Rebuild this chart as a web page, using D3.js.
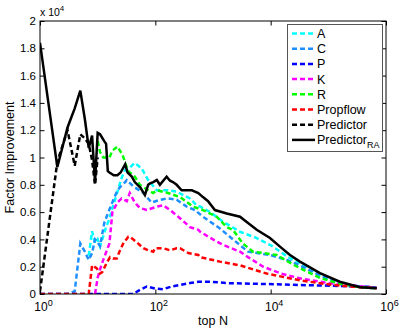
<!DOCTYPE html>
<html>
<head>
<meta charset="utf-8">
<script src="https://cdn.jsdelivr.net/npm/d3@7/dist/d3.min.js"></script>
<style>
  body { margin: 0; background: #fff; }
  text { font-family: "Liberation Sans", Arial, sans-serif; fill: #000; }
</style>
</head>
<body>
<svg id="chart" width="399" height="330"></svg>
<script>
// values, y in units of 10^4
const xTicks = [1, 100, 10000, 1000000];
const yTicks = [0, 0.2, 0.4, 0.6, 0.8, 1, 1.2, 1.4, 1.6, 1.8, 2];

const nA = [7, 8, 9, 10, 11, 14, 16, 18, 21, 26, 30, 35, 44, 58, 75, 106, 166, 234, 399, 520, 600, 890, 1490, 2940, 5730, 11000, 20000, 32200, 71600, 208000, 690000];
const vA = [0.28, 0.46, 0.37, 0.40, 0.35, 0.49, 0.55, 0.63, 0.72, 0.85, 0.91, 0.92, 0.96, 0.92, 0.835, 0.76, 0.76, 0.75, 0.70, 0.65, 0.64, 0.60, 0.53, 0.456, 0.41, 0.347, 0.27, 0.227, 0.14, 0.066, 0.044];

const nC = [1, 2, 3, 4, 5, 6, 7, 8, 9, 10, 11, 13, 16, 21, 24, 30, 32, 41, 62, 86, 120, 166, 234, 350, 487, 670, 1320, 2220, 4050, 9730, 19000, 32000, 72000, 160000, 354000, 690000];
const vC = [0, 0, 0, 0.02, 0.37, 0.31, 0.25, 0.30, 0.40, 0.38, 0.35, 0.52, 0.62, 0.74, 0.78, 0.82, 0.835, 0.79, 0.74, 0.67, 0.69, 0.70, 0.69, 0.64, 0.615, 0.566, 0.48, 0.40, 0.31, 0.286, 0.25, 0.21, 0.135, 0.08, 0.05, 0.042];

const nP = [1, 10, 41, 54, 71, 99, 137, 192, 268, 399, 556, 887, 1730, 8500, 32000, 120000, 460000, 690000];
const vP = [0, 0, 0, 0.03, 0.055, 0.04, 0.035, 0.055, 0.066, 0.08, 0.09, 0.09, 0.08, 0.073, 0.066, 0.06, 0.053, 0.045];

const nK = [9, 10, 11, 12.5, 16, 18, 22, 26, 32, 36, 44, 54, 71, 106, 137, 180, 268, 399, 556, 600, 1000, 1490, 2940, 4050, 7400, 15000, 32000, 100000, 460000, 690000];
const vK = [0, 0.12, 0.18, 0.25, 0.37, 0.60, 0.67, 0.70, 0.68, 0.74, 0.67, 0.63, 0.615, 0.64, 0.65, 0.615, 0.555, 0.49, 0.47, 0.456, 0.40, 0.36, 0.31, 0.27, 0.20, 0.15, 0.115, 0.08, 0.053, 0.045];

const nR = [10, 11, 12.5, 16, 18, 22, 27, 30, 34, 44, 54, 75, 92, 106, 166, 268, 450, 670, 1160, 1730, 2220, 3300, 4935, 7400, 12700, 20000, 32000, 72000, 160000, 350000, 690000];
const vR = [1.12, 1.04, 1.0, 1.0, 1.05, 1.08, 1.02, 0.96, 0.90, 0.86, 0.80, 0.76, 0.74, 0.76, 0.74, 0.71, 0.64, 0.615, 0.566, 0.49, 0.47, 0.37, 0.31, 0.30, 0.286, 0.237, 0.19, 0.117, 0.075, 0.05, 0.042];

const nProp = [1, 2, 3, 4, 5, 6, 7, 8, 9.6, 11, 12, 14.4, 16.4, 18.4, 21.4, 24.4, 27.8, 34, 36, 47.5, 62, 75, 92, 98.6, 137, 180, 234, 268, 373, 556, 595, 1320, 2940, 8500, 32000, 120000, 350000, 690000];
const vProp = [0, 0, 0, 0, 0, 0, 0, 0.21, 0.19, 0.15, 0.16, 0.23, 0.27, 0.26, 0.26, 0.32, 0.37, 0.42, 0.42, 0.38, 0.335, 0.32, 0.31, 0.335, 0.335, 0.32, 0.335, 0.335, 0.30, 0.286, 0.27, 0.237, 0.21, 0.15, 0.10, 0.066, 0.05, 0.042];

const nPred = [1, 2, 3, 4, 5, 6, 7, 8, 9, 10];
const vPred = [0.02, 0.97, 1.20, 0.94, 1.17, 1.14, 1.10, 0.98, 0.80, 1.0];

const nRA = [1, 2, 3, 4, 5, 6, 7, 8, 9, 10, 11, 13, 14, 15, 16, 19, 22, 25, 30, 33, 39, 44, 55, 66, 75, 81, 92, 106, 120, 137, 157, 180, 202, 234, 286, 350, 430, 556, 670, 820, 1080, 1730, 2940, 4050, 5730, 9730, 14500, 21600, 32200, 71600, 158000, 354000, 690000];
const vRA = [1.84, 0.93, 1.22, 1.36, 1.49, 1.28, 1.07, 1.16, 0.82, 1.18, 1.17, 1.12, 1.10, 0.90, 0.89, 0.87, 0.87, 0.89, 0.95, 0.89, 0.86, 0.82, 0.78, 0.725, 0.80, 0.81, 0.82, 0.835, 0.80, 0.83, 0.86, 0.83, 0.82, 0.80, 0.76, 0.76, 0.76, 0.74, 0.71, 0.68, 0.615, 0.59, 0.566, 0.52, 0.47, 0.41, 0.347, 0.286, 0.237, 0.153, 0.09, 0.05, 0.042];

const seriesNames = ["A", "C", "P", "K", "R", "Propflow", "Predictor", "PredictorRA"];
const seriesColors = ["#00ffff", "#1e8fff", "#0000ff", "#ff00ff", "#00ff00", "#ff0000", "#000000", "#000000"];

const series = [
  { name: "A", n: nA, v: vA },
  { name: "C", n: nC, v: vC },
  { name: "P", n: nP, v: vP },
  { name: "K", n: nK, v: vK },
  { name: "R", n: nR, v: vR },
  { name: "Propflow", n: nProp, v: vProp },
  { name: "Predictor", n: nPred, v: vPred },
  { name: "PredictorRA", n: nRA, v: vRA }
];

const svg = d3.select("#chart");
const mLeft = 40, mRight = 386, mTop = 21, mBottom = 294;

const x = d3.scaleLog().domain([1, 1e6]).range([mLeft, mRight]);
const y = d3.scaleLinear().domain([0, 2]).range([mBottom, mTop]);

svg.append("clipPath").attr("id", "clip")
  .append("rect").attr("x", mLeft).attr("y", mTop).attr("width", mRight - mLeft).attr("height", mBottom - mTop);

// lines
const line = d3.line().x(d => x(d[0])).y(d => y(d[1]));
const plot = svg.append("g").attr("clip-path", "url(#clip)");
series.forEach(function(s, i) {
  const pts = s.n.map((n, j) => [n, s.v[j]]);
  plot.append("path")
    .attr("d", line(pts))
    .attr("fill", "none")
    .attr("stroke", seriesColors[i])
    .attr("stroke-width", 2.5)
    .attr("stroke-dasharray", s.name == "PredictorRA" ? null : "5,3");
});

// axes, ticks pointing inward
function supLabels(sel) {
  sel.selectAll(".tick text").each(function(d) {
    const t = d3.select(this);
    t.text("10");
    t.append("tspan").attr("dy", -5).attr("font-size", 9).text(Math.round(Math.log10(d)));
  });
}

svg.append("g").attr("transform", `translate(0,${mBottom})`)
  .call(d3.axisBottom(x).tickValues(xTicks).tickSizeInner(-4.5).tickSizeOuter(0).tickPadding(6).tickFormat(() => ""))
  .call(g => g.select(".domain").remove())
  .call(g => g.selectAll("text").attr("font-size", 12).attr("dy", "0.95em").attr("dx", 3))
  .call(supLabels);

svg.append("g").attr("transform", `translate(0,${mTop})`)
  .call(d3.axisTop(x).tickValues(xTicks).tickSizeInner(-4.5).tickSizeOuter(0).tickFormat(""))
  .call(g => g.select(".domain").remove());

svg.append("g").attr("transform", `translate(${mLeft},0)`)
  .call(d3.axisLeft(y).tickValues(yTicks).tickSizeInner(-4.5).tickSizeOuter(0).tickPadding(4).tickFormat(d3.format("~g")))
  .call(g => g.select(".domain").remove())
  .call(g => g.selectAll("text").attr("font-size", 11.5));

svg.append("g").attr("transform", `translate(${mRight},0)`)
  .call(d3.axisRight(y).tickValues(yTicks).tickSizeInner(-4.5).tickSizeOuter(0).tickFormat(""))
  .call(g => g.select(".domain").remove());

svg.selectAll(".tick line").attr("stroke", "#000");

svg.append("rect")
  .attr("x", mLeft).attr("y", mTop).attr("width", mRight - mLeft).attr("height", mBottom - mTop)
  .attr("fill", "none").attr("stroke", "#000").attr("stroke-width", 1);

// exponent label
const ex = svg.append("text").attr("x", mLeft).attr("y", 16).attr("font-size", 10.5).text("x 10");
ex.append("tspan").attr("dy", -5).attr("font-size", 8).text("4");

// axis titles
svg.append("text").attr("x", (mLeft + mRight) / 2).attr("y", 325)
  .attr("text-anchor", "middle").attr("font-size", 12.5).text("top N");
svg.append("text")
  .attr("transform", `translate(14,${(mTop + mBottom) / 2}) rotate(-90)`)
  .attr("text-anchor", "middle").attr("font-size", 12.5).text("Factor Improvement");

// legend
const lg = svg.append("g");
lg.append("rect").attr("x", 287.5).attr("y", 24.5).attr("width", 95).attr("height", 127)
  .attr("fill", "#fff").attr("stroke", "#555").attr("stroke-width", 1);
seriesNames.forEach(function(name, i) {
  const ly = 33.5 + i * 15.2;
  lg.append("line").attr("x1", 292).attr("x2", 315).attr("y1", ly).attr("y2", ly)
    .attr("stroke", seriesColors[i]).attr("stroke-width", 2.5)
    .attr("stroke-dasharray", name == "PredictorRA" ? null : "5,3");
  const t = lg.append("text").attr("x", 317).attr("y", ly + 4.5).attr("font-size", 12.5);
  if (name == "PredictorRA") {
    t.text("Predictor");
    t.append("tspan").attr("dy", 4).attr("font-size", 9).text("RA");
  } else {
    t.text(name);
  }
});
</script>
</body>
</html>
